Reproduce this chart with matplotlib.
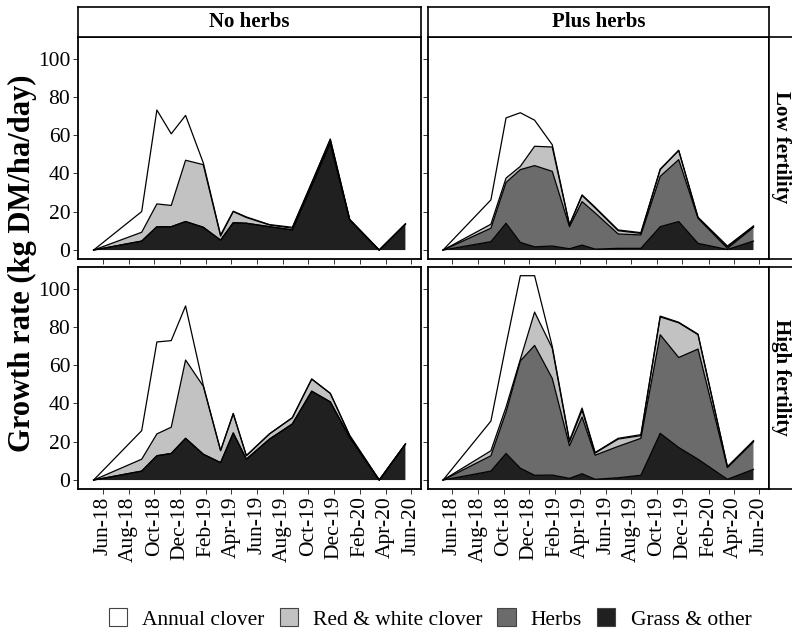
import matplotlib
matplotlib.use("Agg")
import matplotlib.pyplot as plt
import matplotlib.dates as mdates
from matplotlib.patches import Patch
import numpy as np
import pandas as pd

plt.rcParams['font.family'] = ['Liberation Serif', 'DejaVu Serif']

# sampling dates
dates = pd.to_datetime(["2018-05-10", "2018-09-01", "2018-10-07", "2018-11-10",
                        "2018-12-14", "2019-01-25", "2019-03-07", "2019-04-06",
                        "2019-05-07", "2019-07-01", "2019-08-24", "2019-10-09",
                        "2019-11-22", "2020-01-07", "2020-03-17", "2020-05-18"])

# growth rate per component, kg DM/ha/day
# no herbs, low fertility
nh_low_grass = [0, 4.7, 12.2, 12.2, 14.9, 11.9, 5.2, 14.3, 14.0, 12.2, 10.5, 33.6, 56.0, 15.7, 0, 13.6]
nh_low_herbs = [0] * 16
nh_low_rw = [0, 4.6, 11.9, 11.1, 32.0, 32.7, 2.1, 5.8, 3.0, 0.9, 0.9, 1.4, 1.7, 0.2, 0, 0]
nh_low_annual = [0, 10.8, 49.0, 37.4, 23.4, 0.9, 0.6, 0.2, 0.3, 0.2, 0.5, 0.2, 0.3, 0.1, 0, 0]
# plus herbs, low fertility
ph_low_grass = [0, 4.4, 14.0, 4.0, 1.7, 2.1, 0.7, 2.6, 0.5, 0.9, 0.9, 12.2, 14.9, 3.5, 0.3, 4.7]
ph_low_herbs = [0, 7.0, 21.3, 38.0, 42.4, 39.0, 11.5, 22.7, 18.9, 7.5, 7.0, 26.3, 32.3, 13.1, 0.6, 7.2]
ph_low_rw = [0, 2.1, 2.3, 1.7, 10.1, 12.7, 0.9, 3.2, 2.6, 1.7, 0.8, 3.5, 4.8, 0.4, 0.8, 0.3]
ph_low_annual = [0, 12.7, 31.4, 28.0, 13.6, 1.2, 0.1, 0.3, 0.4, 0.4, 0.4, 0.3, 0.1, 0.1, 0.4, 0.4]
# no herbs, high fertility
nh_high_grass = [0, 4.7, 12.7, 13.9, 21.8, 13.5, 9.1, 24.6, 10.9, 21.4, 29.3, 46.4, 40.8, 22.3, 0, 18.8]
nh_high_herbs = [0] * 16
nh_high_rw = [0, 6.2, 11.4, 13.7, 40.9, 35.5, 6.2, 10.0, 1.8, 2.7, 3.2, 6.3, 4.4, 0.9, 0, 0]
nh_high_annual = [0, 14.9, 48.0, 45.2, 28.2, 0.5, 0.2, 0.2, 0.1, 0.1, 0.1, 0.1, 0.1, 0.1, 0, 0]
# plus herbs, high fertility
ph_high_grass = [0, 4.7, 13.9, 6.2, 2.5, 2.6, 0.9, 3.3, 0.4, 1.2, 2.5, 24.4, 17.0, 10.9, 0.4, 5.6]
ph_high_herbs = [0, 8.0, 21.6, 56.0, 67.8, 50.5, 17.0, 29.6, 12.6, 16.4, 19.3, 51.5, 47.0, 57.5, 6.1, 14.4]
ph_high_rw = [0, 2.6, 2.6, 0.8, 17.4, 15.8, 2.1, 3.5, 1.1, 3.8, 1.4, 9.3, 18.1, 7.5, 0.4, 0.2]
ph_high_annual = [0, 15.5, 32.5, 43.7, 19.0, 0.9, 0.6, 1.2, 0.3, 0.4, 0.5, 0.4, 0.3, 0.3, 0.1, 0.4]

col_names = ["No herbs", "Plus herbs"]
row_names = ["Low fertility", "High fertility"]
legend_labels = ["Annual clover", "Red & white clover", "Herbs", "Grass & other"]
# fills bottom to top: grass, herbs, red & white, annual
fills = ["#202020", "#6b6b6b", "#c2c2c2", "#ffffff"]

panels = {
    (0, 0): [nh_low_grass, nh_low_herbs, nh_low_rw, nh_low_annual],
    (0, 1): [ph_low_grass, ph_low_herbs, ph_low_rw, ph_low_annual],
    (1, 0): [nh_high_grass, nh_high_herbs, nh_high_rw, nh_high_annual],
    (1, 1): [ph_high_grass, ph_high_herbs, ph_high_rw, ph_high_annual],
}

W, H = 792, 631
fig = plt.figure(figsize=(W / 100, H / 100), dpi=100)


def box(l, t, r, b):
    return [l / W, 1 - b / H, (r - l) / W, (b - t) / H]


xcols = [(78, 421), (427.5, 769)]
yrows = [(36.5, 258.5), (266.5, 488.5)]
fs = 15
tfs = 15.5

span = dates[-1] - dates[0]
xlim = (dates[0] - span * 0.05, dates[-1] + span * 0.05)

for (r, c), layers in panels.items():
    ax = fig.add_axes(box(xcols[c][0], yrows[r][0], xcols[c][1], yrows[r][1]))
    bottom = np.zeros(len(dates))
    for vals, fc in zip(layers, fills):
        top = bottom + np.array(vals)
        ax.fill_between(dates, bottom, top, facecolor=fc, lw=0)
        bottom = top
    bottom = np.zeros(len(dates))
    for vals in layers:
        top = bottom + np.array(vals)
        ax.plot(dates, top, color="black", lw=0.9)
        bottom = top
    ax.set_xlim(xlim)
    ax.set_ylim(-4.4, 111.5)
    ax.set_yticks(range(0, 101, 20))
    ax.xaxis.set_major_locator(mdates.MonthLocator(bymonth=[2, 4, 6, 8, 10, 12]))
    ax.xaxis.set_major_formatter(mdates.DateFormatter("%b-%y"))
    ax.tick_params(direction="out", length=3.5, width=0.7, color="#333333",
                   labelsize=tfs, pad=2)
    for s in ax.spines.values():
        s.set_linewidth(1.3)
    if r == 0:
        ax.tick_params(axis="x", labelbottom=False)
    else:
        plt.setp(ax.get_xticklabels(), rotation=90)
    if c == 1:
        ax.tick_params(axis="y", labelleft=False)

# strips on top
for c, name in enumerate(col_names):
    sx = fig.add_axes(box(xcols[c][0], 7, xcols[c][1], 36.5))
    sx.set_xticks([])
    sx.set_yticks([])
    for s in sx.spines.values():
        s.set_linewidth(1.2)
    sx.text(0.5, 0.5, name, ha="center", va="center", fontsize=fs,
            fontweight="bold", transform=sx.transAxes)

# strips on the right (run off the edge)
for r, name in enumerate(row_names):
    sy = fig.add_axes(box(769, yrows[r][0], 812, yrows[r][1]))
    sy.set_xticks([])
    sy.set_yticks([])
    for s in sy.spines.values():
        s.set_linewidth(1.2)
    fig.text(781 / W, 1 - (yrows[r][0] + yrows[r][1]) / 2 / H, name, rotation=-90,
             ha="center", va="center", fontsize=fs, fontweight="bold")

fig.text(22 / W, 1 - 263 / H, "Growth rate (kg DM/ha/day)", rotation=90,
         ha="center", va="center", fontsize=22, fontweight="bold")

handles = [Patch(facecolor=fc, edgecolor="#444444", lw=0.8) for fc in fills[::-1]]
fig.legend(handles, legend_labels, loc="center", bbox_to_anchor=(430 / W, 1 - 619 / H),
           ncol=4, frameon=False, fontsize=tfs, handlelength=0.85, handleheight=0.85,
           handletextpad=0.7, columnspacing=0.7)

fig.savefig("out.png", dpi=100)
